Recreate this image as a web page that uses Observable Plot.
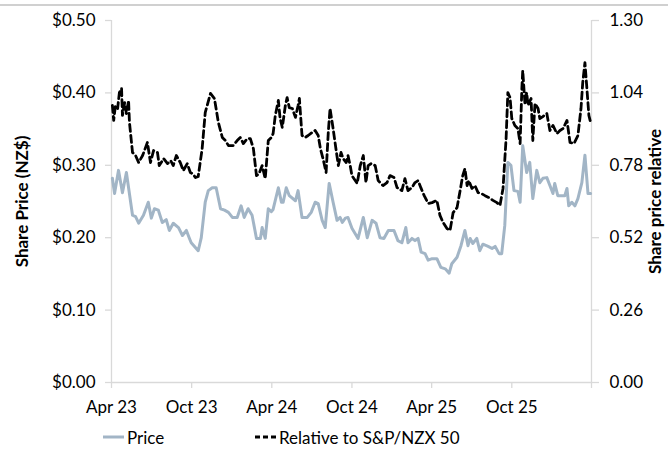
<!DOCTYPE html>
<html><head><meta charset="utf-8">
<script src="https://cdn.jsdelivr.net/npm/d3@7"></script>
<script src="https://cdn.jsdelivr.net/npm/@observablehq/plot@0.6"></script>
<style>
body{margin:0;background:#fff;font-family:Lato,sans-serif;}
#wrap{position:relative;width:668px;height:452px;overflow:hidden;}
#topline{position:absolute;left:0;top:4px;width:668px;height:2px;background:#d0d0d0;}
#chart{position:absolute;left:0;top:0;}
.leg{position:absolute;top:426px;height:22px;font-size:17px;color:#000;display:flex;align-items:center;white-space:nowrap;}
.leg svg{display:block;margin-right:3px;}
</style></head><body>
<div id="wrap"><div id="topline"></div><div id="chart"></div>
<div class="leg" style="left:103px"><svg width="21" height="6"><line x1="0" y1="3" x2="21" y2="3" stroke="#a2b5c6" stroke-width="3"/></svg><span id="leg1"></span></div>
<div class="leg" style="left:255px"><svg width="21" height="6"><line x1="0" y1="3" x2="21" y2="3" stroke="#000" stroke-width="3" stroke-dasharray="5,3"/></svg><span id="leg2"></span></div>
</div>
<script>
const seriesNames = ["Price", "Relative to S&P/NZX 50"];
const yTitles = ["Share Price (NZ$)", "Share price relative"];
const xTickDates = ["2023-04-01","2023-10-01","2024-04-01","2024-10-01","2025-04-01","2025-10-01","2026-04-01"];
const xTickLabels = ["Apr 23","Oct 23","Apr 24","Oct 24","Apr 25","Oct 25",""];
const priceTicks = [0, 0.1, 0.2, 0.3, 0.4, 0.5];
const priceTickLabels = ["$0.00","$0.10","$0.20","$0.30","$0.40","$0.50"];
const relTicks = [0, 0.26, 0.52, 0.78, 1.04, 1.30];
const relTickLabels = ["0.00","0.26","0.52","0.78","1.04","1.30"];

const priceDates = ["2023-04-03","2023-04-08","2023-04-17","2023-04-26","2023-05-05","2023-05-19","2023-05-26","2023-06-02","2023-06-13","2023-06-24","2023-07-01","2023-07-08","2023-07-17","2023-07-26","2023-08-04","2023-08-11","2023-08-20","2023-09-01","2023-09-10","2023-09-19","2023-09-26","2023-09-30","2023-10-16","2023-10-23","2023-11-01","2023-11-08","2023-11-17","2023-11-26","2023-12-06","2023-12-15","2023-12-24","2024-01-02","2024-01-13","2024-01-22","2024-01-29","2024-02-07","2024-02-16","2024-02-26","2024-03-06","2024-03-10","2024-03-17","2024-03-24","2024-03-31","2024-04-04","2024-04-16","2024-04-23","2024-04-27","2024-05-04","2024-05-11","2024-05-25","2024-05-31","2024-06-09","2024-06-21","2024-06-30","2024-07-09","2024-07-16","2024-07-25","2024-08-01","2024-08-10","2024-08-19","2024-08-28","2024-09-04","2024-09-09","2024-09-16","2024-09-22","2024-10-01","2024-10-15","2024-10-27","2024-11-05","2024-11-16","2024-11-25","2024-12-04","2024-12-13","2024-12-23","2025-01-05","2025-01-14","2025-01-23","2025-02-01","2025-02-06","2025-02-15","2025-02-22","2025-03-01","2025-03-08","2025-03-17","2025-03-24","2025-04-02","2025-04-13","2025-04-22","2025-05-02","2025-05-11","2025-05-17","2025-05-29","2025-06-07","2025-06-16","2025-06-23","2025-06-28","2025-07-04","2025-07-13","2025-07-20","2025-07-27","2025-08-08","2025-08-17","2025-08-24","2025-09-02","2025-09-08","2025-09-15","2025-09-22","2025-09-29","2025-10-06","2025-10-15","2025-10-20","2025-10-26","2025-11-04","2025-11-11","2025-11-18","2025-11-27","2025-12-04","2025-12-11","2025-12-20","2025-12-27","2026-01-03","2026-01-07","2026-01-14","2026-01-23","2026-01-30","2026-02-04","2026-02-08","2026-02-15","2026-02-22","2026-03-01","2026-03-10","2026-03-17","2026-03-24","2026-03-30"];
const priceValues = [0.282,0.261,0.293,0.262,0.290,0.231,0.229,0.220,0.231,0.249,
0.227,0.240,0.238,0.221,0.225,0.210,0.220,0.214,0.203,0.210,
0.199,0.193,0.182,0.200,0.249,0.265,0.269,0.269,0.240,0.238,
0.235,0.228,0.228,0.244,0.228,0.240,0.231,0.199,0.199,0.214,
0.199,0.240,0.236,0.239,0.269,0.249,0.249,0.269,0.258,0.251,
0.265,0.228,0.228,0.235,0.249,0.247,0.224,0.214,0.275,0.249,
0.224,0.228,0.221,0.227,0.228,0.213,0.199,0.228,0.200,0.224,
0.220,0.200,0.199,0.210,0.210,0.196,0.193,0.214,0.193,0.199,
0.196,0.199,0.180,0.178,0.169,0.171,0.171,0.159,0.157,0.151,
0.164,0.173,0.189,0.210,0.189,0.199,0.192,0.199,0.182,0.191,
0.188,0.185,0.188,0.178,0.178,0.217,0.304,0.300,0.265,0.264,
0.249,0.327,0.290,0.304,0.254,0.293,0.276,0.282,0.283,0.272,
0.261,0.275,0.258,0.258,0.258,0.268,0.244,0.249,0.244,0.254,
0.276,0.314,0.261,0.261];

const relDates = ["2023-04-03","2023-04-06","2023-04-10","2023-04-15","2023-04-19","2023-04-24","2023-04-26","2023-05-01","2023-05-05","2023-05-10","2023-05-12","2023-05-19","2023-05-26","2023-06-02","2023-06-11","2023-06-22","2023-06-29","2023-07-06","2023-07-15","2023-07-19","2023-07-29","2023-08-07","2023-08-14","2023-08-20","2023-08-27","2023-09-05","2023-09-12","2023-09-21","2023-09-28","2023-10-03","2023-10-10","2023-10-16","2023-10-25","2023-11-01","2023-11-13","2023-11-22","2023-12-01","2023-12-10","2023-12-17","2023-12-24","2024-01-04","2024-01-13","2024-01-20","2024-01-27","2024-02-05","2024-02-12","2024-02-19","2024-02-26","2024-03-03","2024-03-10","2024-03-17","2024-03-24","2024-03-31","2024-04-04","2024-04-09","2024-04-16","2024-04-20","2024-04-25","2024-05-02","2024-05-06","2024-05-11","2024-05-18","2024-05-25","2024-05-31","2024-06-03","2024-06-09","2024-06-16","2024-06-23","2024-07-02","2024-07-09","2024-07-16","2024-07-21","2024-07-27","2024-08-03","2024-08-08","2024-08-12","2024-08-19","2024-08-26","2024-08-31","2024-09-06","2024-09-11","2024-09-18","2024-09-22","2024-09-27","2024-10-01","2024-10-13","2024-10-20","2024-10-27","2024-11-02","2024-11-07","2024-11-14","2024-11-23","2024-11-30","2024-12-11","2024-12-20","2024-12-27","2025-01-05","2025-01-12","2025-01-23","2025-01-30","2025-02-06","2025-02-15","2025-02-22","2025-03-01","2025-03-08","2025-03-15","2025-03-24","2025-04-02","2025-04-13","2025-04-20","2025-04-27","2025-05-06","2025-05-13","2025-05-20","2025-05-29","2025-06-05","2025-06-11","2025-06-16","2025-06-21","2025-06-25","2025-07-02","2025-07-09","2025-07-16","2025-07-23","2025-08-01","2025-08-10","2025-08-19","2025-08-28","2025-09-04","2025-09-11","2025-09-18","2025-09-22","2025-09-27","2025-10-01","2025-10-08","2025-10-15","2025-10-20","2025-10-24","2025-10-26","2025-10-31","2025-11-04","2025-11-07","2025-11-14","2025-11-18","2025-11-23","2025-11-30","2025-12-04","2025-12-11","2025-12-20","2025-12-27","2026-01-03","2026-01-12","2026-01-19","2026-01-26","2026-02-04","2026-02-11","2026-02-20","2026-03-01","2026-03-08","2026-03-12","2026-03-17","2026-03-21","2026-03-26","2026-03-30"];
const relValues = [0.995,0.941,0.995,0.984,1.041,1.056,0.959,1.005,0.966,1.013,
0.934,0.826,0.815,0.790,0.815,0.862,0.790,0.833,0.826,0.779,
0.804,0.786,0.797,0.779,0.815,0.790,0.761,0.786,0.754,0.750,
0.736,0.740,0.840,0.969,1.038,1.020,0.934,0.880,0.869,0.851,
0.851,0.869,0.880,0.858,0.876,0.876,0.840,0.743,0.750,0.779,
0.732,0.869,0.880,0.894,0.959,1.013,0.948,0.916,0.995,1.023,
0.987,0.984,0.952,0.995,1.020,0.887,0.880,0.887,0.898,0.905,
0.887,0.840,0.804,0.754,0.898,0.984,0.912,0.833,0.779,0.826,
0.804,0.790,0.815,0.779,0.743,0.715,0.779,0.815,0.718,0.779,
0.786,0.779,0.725,0.707,0.718,0.743,0.736,0.700,0.689,0.732,
0.689,0.700,0.718,0.725,0.697,0.671,0.643,0.646,0.654,0.600,
0.575,0.553,0.546,0.610,0.628,0.689,0.743,0.768,0.707,0.725,
0.697,0.707,0.682,0.679,0.671,0.664,0.654,0.646,0.636,0.697,
0.876,1.041,1.023,0.948,0.923,0.912,0.858,1.056,1.120,1.002,
1.041,0.995,1.020,0.869,1.002,0.984,0.948,0.955,0.966,0.905,
0.923,0.894,0.905,0.912,0.941,0.862,0.858,0.887,0.984,1.077,
1.149,1.066,0.959,0.934];

const priceMax = priceTicks[priceTicks.length - 1];
const relMax = relTicks[relTicks.length - 1];
const k = priceMax / relMax;

const price = priceDates.slice(0, priceValues.length).map((d, i) => ({date: new Date(d), value: priceValues[i]}));
const rel = relDates.slice(0, relValues.length).map((d, i) => ({date: new Date(d), value: relValues[i]}));
const xTicks = xTickDates.map(d => new Date(d));
const xStart = xTicks[0], xEnd = xTicks[xTicks.length - 1];
const axisGrey = "#d9d9d9";

const chart = Plot.plot({
  width: 668, height: 420,
  marginLeft: 111, marginRight: 77, marginTop: 20, marginBottom: 38,
  style: {fontFamily: "Lato, sans-serif", fontSize: "17px", color: "#000", background: "transparent", overflow: "visible"},
  x: {type: "utc", domain: [xStart, xEnd]},
  y: {domain: [0, priceMax]},
  marks: [
    Plot.ruleY([0], {stroke: axisGrey, strokeWidth: 1.3}),
    Plot.ruleX([xStart], {stroke: axisGrey, strokeWidth: 1.3}),
    Plot.ruleX([xEnd], {stroke: axisGrey, strokeWidth: 1.3}),
    Plot.axisX({ticks: xTicks, tickSize: 6, tickPadding: 12, stroke: axisGrey, strokeWidth: 1.3, fill: "#000", label: null,
      tickFormat: d => xTickLabels[xTicks.findIndex(t => +t === +d)]}),
    Plot.axisY({anchor: "left", ticks: priceTicks, tickSize: 6, tickPadding: 10, stroke: axisGrey, strokeWidth: 1.3, fill: "#000", label: null,
      tickFormat: d => priceTickLabels[priceTicks.findIndex(t => Math.abs(t - d) < 1e-9)]}),
    Plot.axisY({anchor: "right", ticks: relTicks.map(v => v * k), tickSize: 7, tickPadding: 11, stroke: axisGrey, strokeWidth: 1.3, fill: "#000", label: null,
      tickFormat: d => relTickLabels[relTicks.findIndex(t => Math.abs(t * k - d) < 1e-9)]}),
    Plot.text([yTitles[0]], {frameAnchor: "left", dx: -89, rotate: -90, textAnchor: "middle", lineAnchor: "middle", fontWeight: "bold", fontSize: 17, fill: "#000"}),
    Plot.text([yTitles[1]], {frameAnchor: "right", dx: 64, rotate: -90, textAnchor: "middle", lineAnchor: "middle", fontWeight: "bold", fontSize: 17, fill: "#000"}),
    Plot.line(price, {x: "date", y: "value", stroke: "#a2b5c6", strokeWidth: 3, strokeLinejoin: "round"}),
    Plot.line(rel, {x: "date", y: d => d.value * k, stroke: "#000", strokeWidth: 2.8, strokeDasharray: "7,4"})
  ]
});
document.getElementById("chart").appendChild(chart);
document.getElementById("leg1").textContent = seriesNames[0];
document.getElementById("leg2").textContent = seriesNames[1];
</script>
</body></html>
